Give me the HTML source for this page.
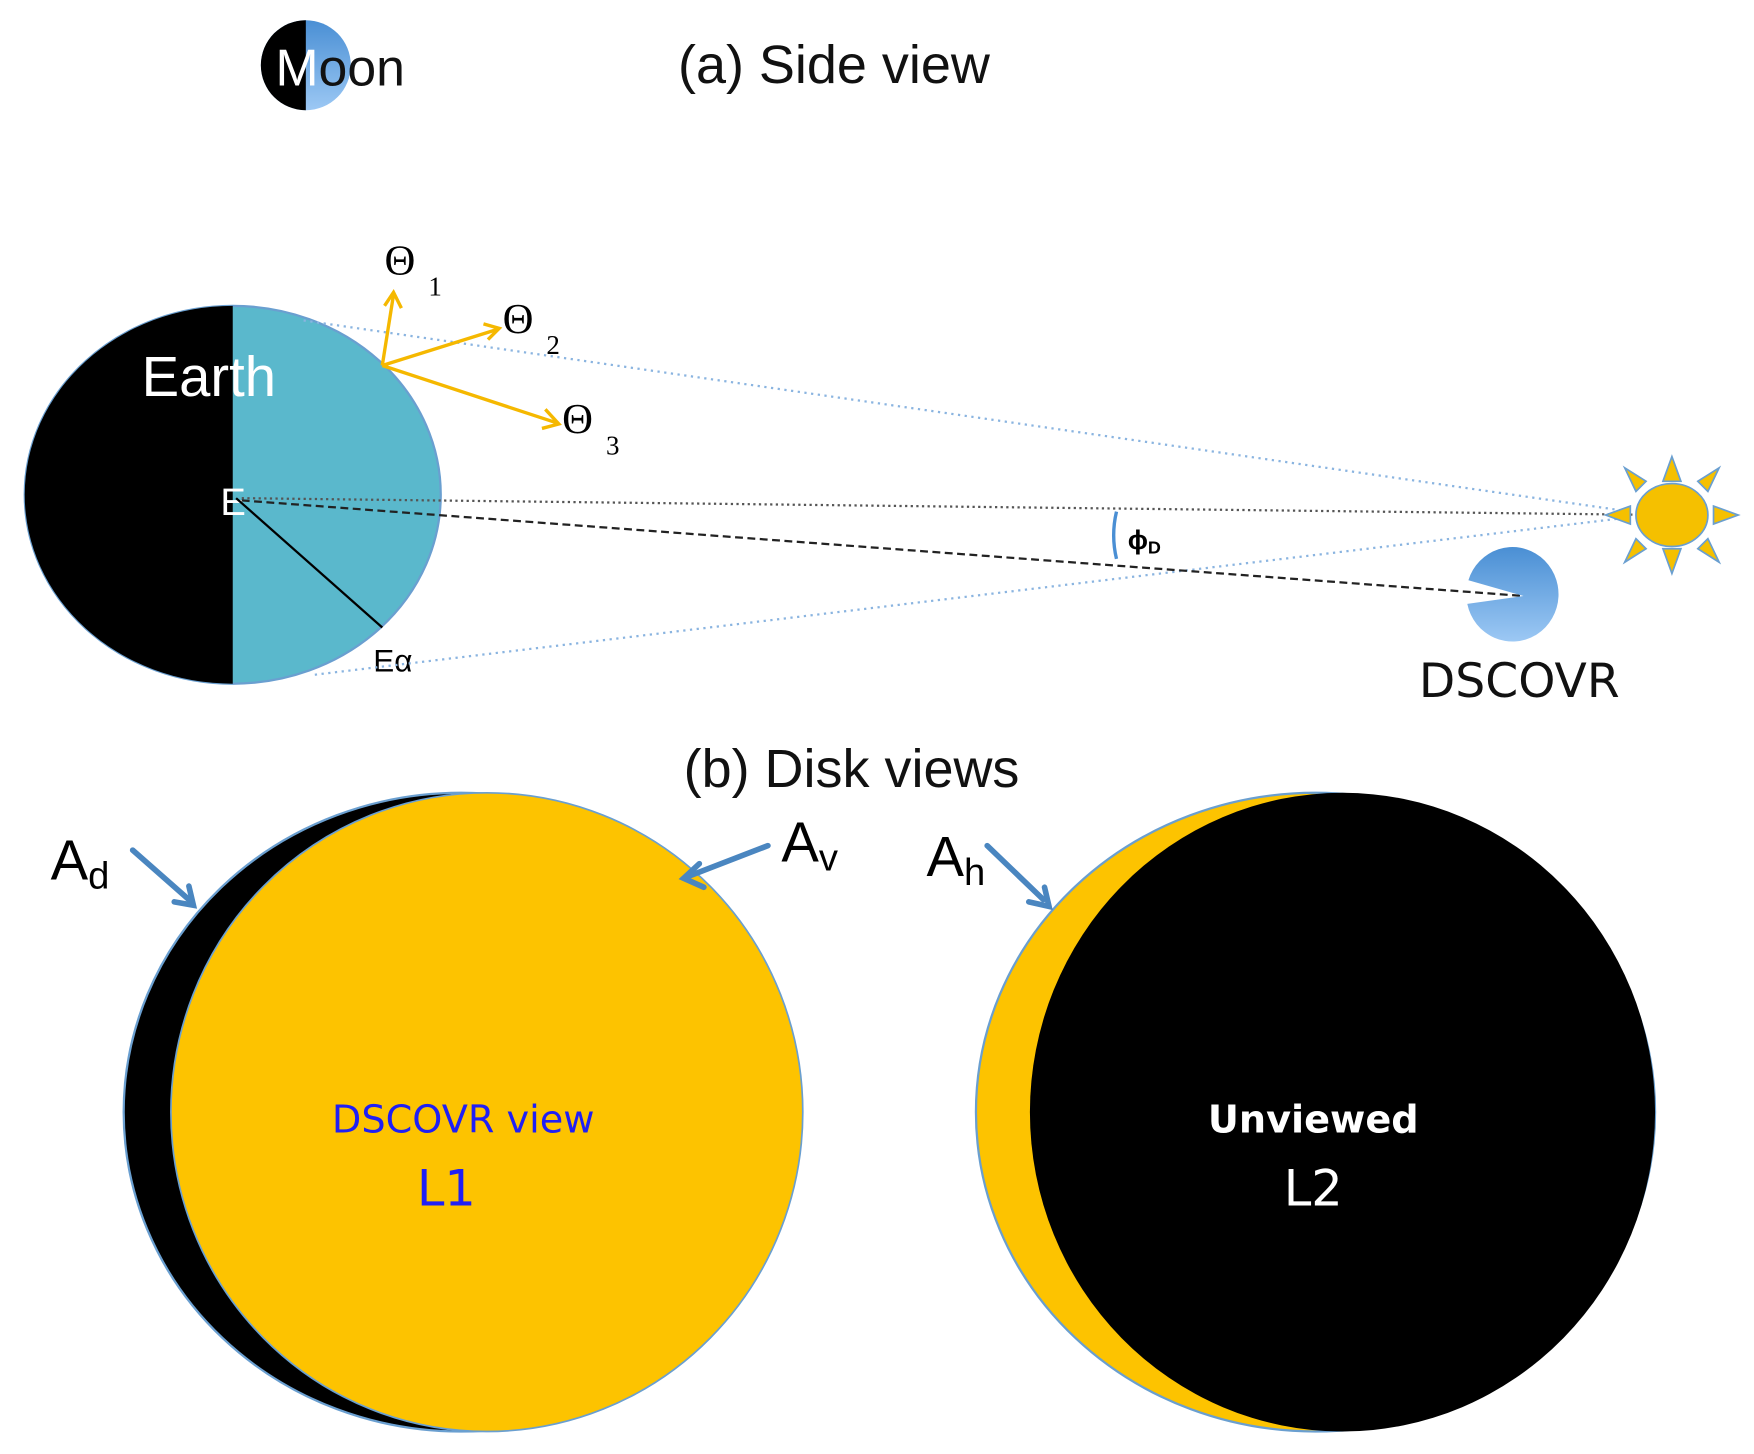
<!DOCTYPE html>
<html><head><meta charset="utf-8"><style>html,body{margin:0;padding:0;background:#fff;}svg{display:block;}</style></head>
<body>
<svg width="1754" height="1454" viewBox="0 0 1560 1293" preserveAspectRatio="none" xmlns="http://www.w3.org/2000/svg">
<defs>
<linearGradient id="bl" x1="0" y1="0" x2="0" y2="1"><stop offset="0" stop-color="#4a8fd4"/><stop offset="1" stop-color="#9cc8f4"/></linearGradient>
<clipPath id="ml"><rect x="0" y="0" width="272" height="200"/></clipPath>
<clipPath id="el"><rect x="0" y="200" width="207" height="450"/></clipPath>
</defs>
<!-- Moon -->
<circle cx="272" cy="58" r="40" fill="url(#bl)"/>
<circle cx="272" cy="58" r="40" fill="#000" clip-path="url(#ml)"/>
<text x="245" y="76" font-family="Liberation Sans, sans-serif" font-size="46" fill="#111"><tspan fill="#fff">M</tspan>oon</text>
<text x="603" y="74" font-family="Liberation Sans, sans-serif" font-size="48" fill="#111">(a) Side view</text>
<!-- Earth -->
<ellipse cx="207" cy="440" rx="185" ry="168" fill="#5ab8cc" stroke="#6a9fd0" stroke-width="2"/>
<ellipse cx="207" cy="440" rx="185" ry="168" fill="#000" clip-path="url(#el)"/>
<text x="126" y="352" font-family="Liberation Sans, sans-serif" font-size="50" fill="#fff">Earth</text>
<text x="196" y="458" font-family="Liberation Sans, sans-serif" font-size="34" fill="#fff">E</text>
<line x1="210" y1="443" x2="340" y2="558" stroke="#000" stroke-width="2"/>
<text x="332" y="597" font-family="Liberation Sans, sans-serif" font-size="28" fill="#000">Eα</text>
<!-- lines -->
<line x1="270" y1="285" x2="1450" y2="455" stroke="#8ab4e0" stroke-width="2" stroke-dasharray="2 4"/>
<line x1="280" y1="600" x2="1450" y2="460" stroke="#8ab4e0" stroke-width="2" stroke-dasharray="2 4"/>
<line x1="215" y1="443" x2="1480" y2="458" stroke="#555" stroke-width="2" stroke-dasharray="2 3"/>
<line x1="215" y1="445" x2="1355" y2="530" stroke="#222" stroke-width="2" stroke-dasharray="7 4"/>
<path d="M993 455 Q988 476 993 497" fill="none" stroke="#4a8fd4" stroke-width="3"/>
<text x="1003" y="488" font-family="Liberation Sans, sans-serif" font-weight="bold" font-size="24" fill="#000">ɸ<tspan font-size="16" dy="4">D</tspan></text>
<!-- yellow arrows -->
<g stroke="#f5b800" stroke-width="3" fill="none">
<line x1="340" y1="325" x2="350" y2="262"/><path d="M342 272 L350 260 L357 274"/>
<line x1="340" y1="325" x2="442" y2="293"/><path d="M430 288 L444 292 L434 302"/>
<line x1="340" y1="325" x2="495" y2="376"/><path d="M485 364 L497 377 L482 381"/>
</g>
<g font-family="Liberation Serif, serif" fill="#000">
<text x="342" y="244" font-size="38">Θ</text><text x="381" y="263" font-size="24">1</text>
<text x="447" y="296" font-size="38">Θ</text><text x="486" y="315" font-size="24">2</text>
<text x="500" y="385" font-size="38">Θ</text><text x="539" y="404" font-size="24">3</text>
</g>
<!-- Sun -->
<g fill="#f5c000" stroke="#6a9fd0" stroke-width="1.5">
<polygon points="1487,406 1479,428 1495,428"/>
<polygon points="1487,510 1479,488 1495,488"/>
<polygon points="1428,458 1450,450 1450,466"/>
<polygon points="1546,458 1524,450 1524,466"/>
<polygon points="1445,416 1464,428 1455,437"/>
<polygon points="1529,416 1510,428 1519,437"/>
<polygon points="1445,500 1464,488 1455,479"/>
<polygon points="1529,500 1510,488 1519,479"/>
<ellipse cx="1487" cy="458" rx="32" ry="28"/>
</g>
<!-- DSCOVR -->
<path d="M1355 530 L1306 516 A41 42 0 1 1 1305 537 Z" fill="url(#bl)"/>
<text x="1262" y="620" font-family="DejaVu Sans, sans-serif" font-size="42" fill="#111">DSCOVR</text>
<text x="608" y="700" font-family="Liberation Sans, sans-serif" font-size="48" fill="#111">(b) Disk views</text>
<!-- left disk -->
<ellipse cx="410" cy="989" rx="300" ry="284" fill="#000" stroke="#6a9fd0" stroke-width="2"/>
<ellipse cx="433" cy="989" rx="281" ry="284" fill="#fdc300" stroke="#6a9fd0" stroke-width="1.5"/>
<text x="412" y="1007" text-anchor="middle" font-family="DejaVu Sans, sans-serif" font-size="34" fill="#1f1ff5">DSCOVR view</text>
<text x="397" y="1072" text-anchor="middle" font-family="DejaVu Sans, sans-serif" font-size="44" fill="#1f1ff5">L1</text>
<!-- right disk -->
<ellipse cx="1170" cy="989" rx="302" ry="284" fill="#fdc300" stroke="#6a9fd0" stroke-width="2"/>
<ellipse cx="1194" cy="989" rx="278" ry="284" fill="#000"/>
<text x="1168" y="1007" text-anchor="middle" font-family="DejaVu Sans, sans-serif" font-weight="bold" font-size="34" fill="#fff">Unviewed</text>
<text x="1168" y="1072" text-anchor="middle" font-family="DejaVu Sans, sans-serif" font-size="44" fill="#fff">L2</text>
<!-- A labels -->
<g font-family="Liberation Sans, sans-serif" fill="#000">
<text x="45" y="782" font-size="50">A<tspan font-size="34" dy="8">d</tspan></text>
<text x="695" y="766" font-size="50">A<tspan font-size="34" dy="8">v</tspan></text>
<text x="824" y="779" font-size="50">A<tspan font-size="34" dy="8">h</tspan></text>
</g>
<g stroke="#4a86c0" stroke-width="5" fill="none" stroke-linecap="round">
<line x1="118" y1="756" x2="168" y2="800"/><path d="M155 802 L172 805 L168 788"/>
<line x1="683" y1="752" x2="613" y2="779"/><path d="M622 768 L608 781 L626 789"/>
<line x1="878" y1="752" x2="928" y2="800"/><path d="M915 802 L933 806 L929 789"/>
</g>
</svg>
</body></html>
